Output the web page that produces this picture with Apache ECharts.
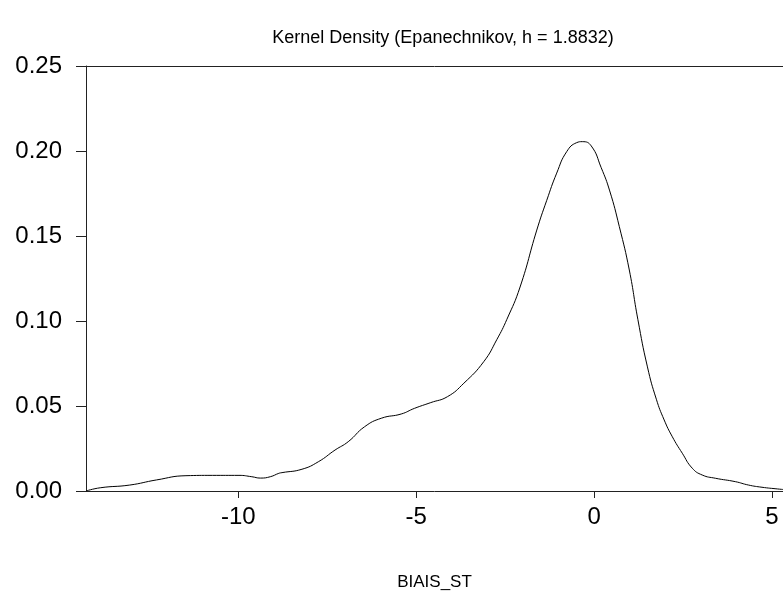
<!DOCTYPE html>
<html>
<head>
<meta charset="utf-8">
<script src="https://cdn.jsdelivr.net/npm/echarts@6/dist/echarts.min.js"></script>
<style>html,body{margin:0;padding:0;background:#fff;}#c{width:783px;height:596px;}</style>
</head>
<body>
<div id="c"></div>
<script>
var xValues = [-14.28, -13.88, -13.05, -12.30, -11.47, -10.73, -9.98, -9.62, -9.38, -9.10, -8.86, -8.77, -8.21, -7.75, -7.28, -6.91, -6.45, -5.98, -5.42, -5.05, -4.59, -4.12, -3.66, -3.10, -2.73, -2.45, -2.08, -1.61, -1.33, -1.05, -0.77, -0.49, -0.33, -0.08, 0.20, 0.44, 0.71, 0.99, 1.23, 1.50, 1.75, 1.97, 2.20, 2.48, 2.76, 3.04, 3.41, 3.97, 4.34, 4.72, 5.16, 5.31];
var density = [0.0000, 0.0019, 0.0035, 0.0065, 0.0090, 0.0092, 0.0092, 0.0084, 0.0076, 0.0084, 0.0104, 0.0108, 0.0128, 0.0172, 0.0241, 0.0290, 0.0378, 0.0428, 0.0453, 0.0486, 0.0520, 0.0555, 0.0634, 0.0761, 0.0892, 0.1010, 0.1200, 0.1535, 0.1710, 0.1870, 0.1996, 0.2049, 0.2055, 0.2030, 0.1902, 0.1765, 0.1555, 0.1300, 0.1010, 0.0730, 0.0540, 0.0418, 0.0319, 0.0222, 0.0134, 0.0094, 0.0075, 0.0055, 0.0035, 0.0022, 0.0012, 0.0009];
var xTicks = [-10, -5, 0, 5];
var yTicks = [0, 0.05, 0.10, 0.15, 0.20, 0.25];
var titleText = 'Kernel Density (Epanechnikov, h = 1.8832)';
var xName = 'BIAIS_ST';

var pts = xValues.map(function (x, i) { return [x, density[i]]; });
var font = 'Liberation Sans, Arial, sans-serif';
var chart = echarts.init(document.getElementById('c'));
chart.setOption({
  animation: false,
  backgroundColor: '#fff',
  title: {
    text: titleText, left: 438, top: 24, textAlign: 'center',
    textStyle: { fontFamily: font, fontSize: 18, fontWeight: 'normal', color: '#000' }
  },
  grid: { left: 86, right: -5, top: 66, bottom: 105, containLabel: false },
  xAxis: [{
    type: 'value', min: -14.28, max: 5.31, position: 'bottom',
    name: xName, nameLocation: 'middle', nameGap: 83,
    nameTextStyle: { fontFamily: font, fontSize: 17, color: '#000' },
    axisLine: { show: true, onZero: false, lineStyle: { color: '#222', width: 1 } },
    axisTick: { show: true, inside: false, length: 7, customValues: xTicks, lineStyle: { color: '#222' } },
    axisLabel: { customValues: xTicks, margin: 14, fontFamily: font, fontSize: 24, color: '#000' },
    splitLine: { show: false }
  }, {
    type: 'value', min: -14.28, max: 5.31, position: 'top',
    axisLine: { show: true, onZero: false, lineStyle: { color: '#222', width: 1 } },
    axisTick: { show: false }, axisLabel: { show: false }, splitLine: { show: false }
  }],
  yAxis: {
    type: 'value', min: 0, max: 0.25, interval: 0.05,
    axisLine: { show: true, onZero: false, lineStyle: { color: '#222', width: 1 } },
    axisTick: { show: true, inside: false, length: 10, lineStyle: { color: '#222' } },
    axisLabel: { margin: 24, fontFamily: font, fontSize: 24, color: '#000',
      formatter: function (v) { return v.toFixed(2); } },
    splitLine: { show: false }
  },
  series: [{
    type: 'line', data: pts, smooth: 0.5, showSymbol: false, symbol: 'none',
    lineStyle: { color: '#000', width: 1 }, clip: true
  }]
});
</script>
</body>
</html>
